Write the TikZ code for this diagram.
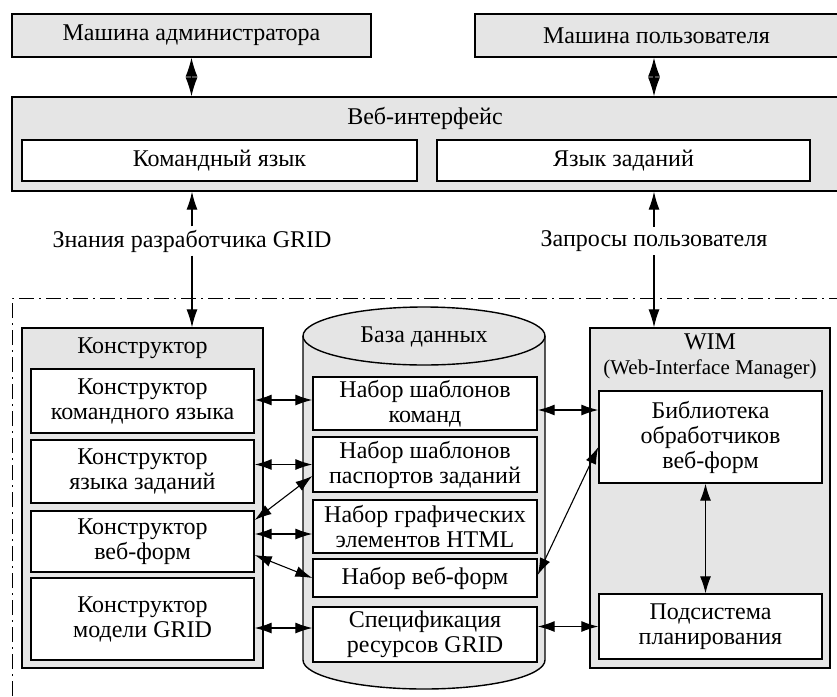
\documentclass[tikz,border=0pt]{standalone}
\usepackage{fontspec}
\setmainfont{Liberation Serif}
\usepackage{tikz}
\usetikzlibrary{arrows.meta, positioning}

\begin{document}
\begin{tikzpicture}[x=1pt, y=-1pt,
    font=\fontsize{24}{25}\selectfont,
    outerbox/.style={draw, line width=1.4pt, fill=black!10, inner sep=0pt},
    innerbox/.style={draw, line width=1.4pt, fill=white, align=center, inner sep=0pt},
    link/.style={line width=1.1pt, {Latex[length=17pt,width=11pt]}-{Latex[length=17pt,width=11pt]}},
    feed/.style={line width=1.1pt, -{Latex[length=18pt,width=11pt]}},
    bigarrow/.style={line width=1.1pt, {Latex[length=19pt,width=12pt]}-{Latex[length=19pt,width=12pt]}},
    gridframe/.style={line width=1pt, dash pattern=on 15pt off 5pt on 2pt off 5pt}]
    \useasboundingbox (0,0) rectangle (837,696);

    % Machines
    \node[outerbox, minimum width=359pt, minimum height=43pt] (adm) at (191.5,35.5) {Машина администратора};
    \node[outerbox, minimum width=363pt, minimum height=43pt] (usr) at (656.5,35.5) {Машина пользователя};

    % Web interface
    \node[outerbox, minimum width=826pt, minimum height=94pt] (web) at (425,144) {};
    \node (webtitle) at (425,118) {Веб-интерфейс};
    \node[innerbox, minimum width=395pt, minimum height=41pt] (cmd) at (219.5,160.5) {Командный язык};
    \node[innerbox, minimum width=373pt, minimum height=41pt] (job) at (623.5,160.5) {Язык заданий};

    % Inputs
    \node (know) at (192,241) {Знания разработчика GRID};
    \node (req) at (654,241) {Запросы пользователя};

    % GRID part (open at the bottom)
    \draw[gridframe] (12,696) -- (12,298) -- (837,298);

    % Constructor
    \node[outerbox, minimum width=241pt, minimum height=340pt] (kon) at (142.5,498) {};
    \node (kontitle) at (142.5,348) {Конструктор};
    \node[innerbox, minimum width=223pt, minimum height=64pt] (k1) at (142.5,401) {Конструктор\\командного языка};
    \node[innerbox, minimum width=223pt, minimum height=63pt] (k2) at (142.5,471.5) {Конструктор\\языка заданий};
    \node[innerbox, minimum width=223pt, minimum height=61pt] (k3) at (142.5,541.5) {Конструктор\\веб-форм};
    \node[innerbox, minimum width=223pt, minimum height=82pt] (k4) at (142.5,619) {Конструктор\\модели GRID};

    % Database cylinder
    \draw[line width=1.4pt, fill=black!10] (303,336) -- (303,660)
        arc[start angle=180, end angle=360, x radius=121pt, y radius=29pt] -- (545,336);
    \draw[line width=1.4pt, fill=black!10] (424,336) ellipse[x radius=121pt, y radius=29pt];
    \node (dbtitle) at (424,337) {База данных};
    \node[innerbox, minimum width=224pt, minimum height=53pt] (d1) at (425,403.5) {Набор шаблонов\\команд};
    \node[innerbox, minimum width=224pt, minimum height=55pt] (d2) at (425,464.5) {Набор шаблонов\\паспортов заданий};
    \node[innerbox, minimum width=224pt, minimum height=53pt] (d3) at (425,526.5) {Набор графических\\элементов HTML};
    \node[innerbox, minimum width=224pt, minimum height=38pt] (d4) at (425,578) {Набор веб-форм};
    \node[innerbox, minimum width=224pt, minimum height=55pt] (d5) at (425,634.5) {Спецификация\\ресурсов GRID};

    % WIM
    \node[outerbox, minimum width=240pt, minimum height=340pt] (wim) at (710,498) {};
    \node[align=center] (wimtitle) at (710,356) {WIM\\{\fontsize{21}{25}\selectfont(Web-Interface Manager)}};
    \node[innerbox, minimum width=223pt, minimum height=92pt] (w1) at (710.5,437) {Библиотека\\обработчиков\\веб-форм};
    \node[innerbox, minimum width=223pt, minimum height=65pt] (w2) at (710.5,626.5) {Подсистема\\планирования};

    % Top links
    \draw[bigarrow] (adm.south) -- (adm.south |- web.north);
    \draw[bigarrow] ([xshift=-2.5pt]usr.south) -- ([xshift=-2.5pt]usr.south |- web.north);
    \draw[feed] (know.north) -- (know.north |- web.south);
    \draw[feed] (know.south) -- (know.south |- kon.north);
    \draw[feed] (req.north) -- (req.north |- web.south);
    \draw[feed] (req.south) -- (req.south |- wim.north);

    % Constructor <-> database
    \draw[link] ([yshift=1pt]k1.east) -- ([yshift=1pt]k1.east -| d1.west);
    \draw[link] (d2.west -| k2.east) -- (d2.west);
    \draw[link] ([yshift=21.5pt]k3.east) -- ([yshift=-11.5pt]d2.west);
    \draw[link] ([yshift=7.5pt]k3.east) -- ([yshift=7.5pt]k3.east -| d3.west);
    \draw[link] ([yshift=-13.5pt]k3.east) -- (d4.west);
    \draw[link] ([yshift=-9pt]k4.east) -- ([yshift=-9pt]k4.east -| d5.west);

    % Database <-> WIM
    \draw[link] ([yshift=-6.5pt]d1.east) -- ([yshift=-6.5pt]d1.east -| w1.west);
    \draw[link] ([yshift=3pt]d4.east) -- ([yshift=-10pt]w1.west);
    \draw[link] (w2.west -| d5.east) -- (w2.west);
    \draw[link] ([xshift=-5pt]w1.south) -- ([xshift=-5pt]w2.north);
\end{tikzpicture}
\end{document}
